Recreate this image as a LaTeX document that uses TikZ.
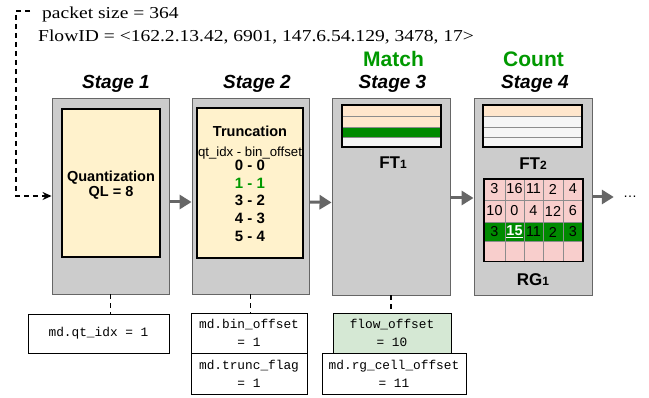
\documentclass[tikz,border=0pt]{standalone}
\usepackage{fontspec}
\setmainfont{Liberation Serif}[FakeStretch=1.17]
\newfontfamily\sansf{Liberation Sans}
\newfontfamily\monof{Liberation Mono}
\usetikzlibrary{arrows.meta}
\definecolor{stagegray}{HTML}{CCCCCC}
\definecolor{stageedge}{HTML}{666666}
\definecolor{yel}{HTML}{FFF2CC}
\definecolor{peach}{HTML}{FFE6CC}
\definecolor{lgray}{HTML}{F5F5F5}
\definecolor{pinkc}{HTML}{F8CECC}
\definecolor{dgreen}{HTML}{008A00}
\definecolor{tgreen}{HTML}{009900}
\definecolor{lgreen}{HTML}{D5E8D4}
\definecolor{arrowgray}{HTML}{666666}
\definecolor{gridgray}{HTML}{8C8C8C}
\tikzset{
  stagebox/.style={draw=stageedge, fill=stagegray, line width=0.9pt, inner sep=0pt},
  yelbox/.style={draw=black, fill=yel, line width=1.6pt, inner sep=0pt},
  garrow/.style={draw=arrowgray, line width=3pt, -{Triangle[length=12pt,width=14pt]}},
  dline/.style={black, line width=1.5pt, dash pattern=on 5pt off 4pt},
  mdbox/.style={draw=black, line width=0.8pt, fill=white, inner sep=0pt, align=center,
    font=\monof\fontsize{12.8}{18}\selectfont},
  stagelbl/.style={inner sep=0pt, anchor=base, font=\sansf\bfseries\itshape\fontsize{19}{22}\selectfont},
  oplbl/.style={inner sep=0pt, anchor=base, text=tgreen, font=\sansf\bfseries\fontsize{21}{24}\selectfont},
  blbl/.style={inner sep=0pt, anchor=base, font=\sansf\bfseries\fontsize{14.5}{17}\selectfont},
  tnum/.style={inner sep=0pt, font=\sansf\bfseries\fontsize{15}{17}\selectfont},
  tablbl/.style={inner sep=0pt, anchor=base, font=\sansf\bfseries\fontsize{17}{20}\selectfont},
  gnum/.style={inner sep=0pt, font=\sansf\fontsize{14.4}{16}\selectfont},
  serif/.style={inner sep=0pt, anchor=base west, font=\fontsize{16.7}{20}\selectfont},
  gridline/.style={draw=gridgray, line width=0.8pt},
  tabedge/.style={draw=black, line width=1.8pt}
}
\begin{document}
\begin{tikzpicture}[x=1pt,y=-1pt]
\useasboundingbox (0,0) rectangle (649,398);
\fill[white] (0,0) rectangle (649,398);

% header text
\node[serif] (pkt) at (42,18.5) {packet size = 364};
\node[serif] (fid) at (38,41.5) {FlowID = <162.2.13.42, 6901, 147.6.54.129, 3478, 17>};

% stage labels
\node[stagelbl] (l1) at (116,88.5) {Stage 1};
\node[stagelbl] (l2) at (257,88.5) {Stage 2};
\node[oplbl] (m3) at (393.5,67) {Match};
\node[stagelbl] (l3) at (392.5,88.5) {Stage 3};
\node[oplbl] (m4) at (533.5,67) {Count};
\node[stagelbl] (l4) at (535,88.5) {Stage 4};

% stage boxes
\node[stagebox, minimum width=117pt, minimum height=196pt] (s1) at (110.5,196) {};
\node[stagebox, minimum width=117pt, minimum height=196pt] (s2) at (250.5,196) {};
\node[stagebox, minimum width=118pt, minimum height=197pt] (s3) at (391,196.5) {};
\node[stagebox, minimum width=118pt, minimum height=197pt] (s4) at (533,196.5) {};

% stage 1 content
\node[yelbox, minimum width=98pt, minimum height=148pt] (qbox) at (111,183) {};
\node[blbl] (qt1) at (111,182) {Quantization};
\node[blbl] (qt2) at (111,197) {QL = 8};

% stage 2 content
\node[yelbox, minimum width=106pt, minimum height=150pt] (tbox) at (250,183) {};
\node[blbl] (tt1) at (250,137) {Truncation};
\node[inner sep=0pt, anchor=base, font=\sansf\fontsize{13.2}{15}\selectfont] (tt2) at (250,156.5) {qt\_idx - bin\_offset};
\node[tnum] (r0) at (250,165) {0 - 0};
\node[tnum, text=tgreen] (r1) at (250,183) {1 - 1};
\node[tnum] (r2) at (250,200) {3 - 2};
\node[tnum] (r3) at (250,218) {4 - 3};
\node[tnum] (r4) at (250,236) {5 - 4};

% stage 3 content: FT1
\fill[peach] (342,105) rectangle (441,127);
\fill[dgreen] (342,127) rectangle (441,137);
\fill[lgray] (342,137) rectangle (441,147);
\draw[gridline] (342,116) -- (441,116) (342,127) -- (441,127) (342,137) -- (441,137);
\draw[tabedge] (342,105) rectangle (441,147);
\node[tablbl] (ft1) at (393,169) {FT{\fontsize{12}{14}\selectfont 1}};

% stage 4 content: FT2
\fill[peach] (483,105) rectangle (582,116);
\fill[lgray] (483,116) rectangle (582,147);
\draw[gridline] (483,116) -- (582,116) (483,127) -- (582,127) (483,137) -- (582,137);
\draw[tabedge] (483,105) rectangle (582,147);
\node[tablbl] (ft2) at (533,170) {FT{\fontsize{12}{14}\selectfont 2}};

% RG1 grid
\fill[pinkc] (484,179) rectangle (583,261.5);
\fill[dgreen] (484,222) rectangle (583,241.5);
\draw[gridline] (505,179) -- (505,261.5) (524,179) -- (524,261.5) (543,179) -- (543,261.5) (563,179) -- (563,261.5);
\draw[gridline] (484,200) -- (583,200) (484,222) -- (583,222) (484,241.5) -- (583,241.5);
\draw[tabedge] (484,179) rectangle (583,261.5);
\node[gnum] at (494.5,189) {3};
\node[gnum] at (514.5,189) {16};
\node[gnum] at (533.5,189) {11};
\node[gnum] at (553,189) {2};
\node[gnum] at (573,189) {4};
\node[gnum] at (494.5,211) {10};
\node[gnum] at (514.5,211) {0};
\node[gnum] at (533.5,211) {4};
\node[gnum] at (553,211) {12};
\node[gnum] at (573,211) {6};
\node[gnum] at (494.5,232) {3};
\node[gnum, text=white, font=\sansf\bfseries\fontsize{14.4}{16}\selectfont] at (514.5,232) {\underline{15}};
\node[gnum] at (533.5,232) {11};
\node[gnum] at (553,232) {2};
\node[gnum] at (573,232) {3};
\node[tablbl] (rg1) at (533,286) {RG{\fontsize{12}{14}\selectfont 1}};

% continuation dots
\node[inner sep=0pt, font=\sansf\fontsize{14}{16}\selectfont] (dots) at (630,197) {…};

% stage arrows
\draw[garrow] ([yshift=-6pt]s1.east) -- ([yshift=-6pt]s2.west);
\draw[garrow] ([yshift=-6pt]s2.east) -- ([yshift=-6pt]s3.west);
\draw[garrow] ([yshift=-1.5pt]s3.east) -- ([yshift=-1.5pt]s4.west);
\draw[garrow] ([yshift=-0.5pt]s4.east) -- ([xshift=-9pt]dots.west);

% input dashed arrow
\coordinate (pk) at (30,11);
\coordinate (corner) at (16,11);
\draw[dline, -{Stealth[length=9pt,width=8pt]}] (pk) -- (corner) |- (s1.west);

% metadata boxes
\node[mdbox, minimum width=141pt, minimum height=39pt] (b1) at (98.5,333.5) {md.qt\_idx = 1};
\node[mdbox, minimum width=116pt, minimum height=40pt] (b2) at (249,333) {md.bin\_offset\\= 1};
\node[mdbox, minimum width=116pt, minimum height=41pt] (b3) at (249,373.5) {md.trunc\_flag\\= 1};
\node[mdbox, fill=lgreen, minimum width=118pt, minimum height=40pt] (b4) at (392,333) {flow\_offset\\= 10};
\node[mdbox, minimum width=144pt, minimum height=41pt] (b5) at (394,373.5) {md.rg\_cell\_offset\\= 11};

% dashed links
\draw[dline] (s1.south) -- (s1.south |- b1.north);
\draw[dline] (s2.south) -- (s2.south |- b2.north);
\draw[dline] (s3.south) -- (s3.south |- b4.north);
\end{tikzpicture}
\end{document}
